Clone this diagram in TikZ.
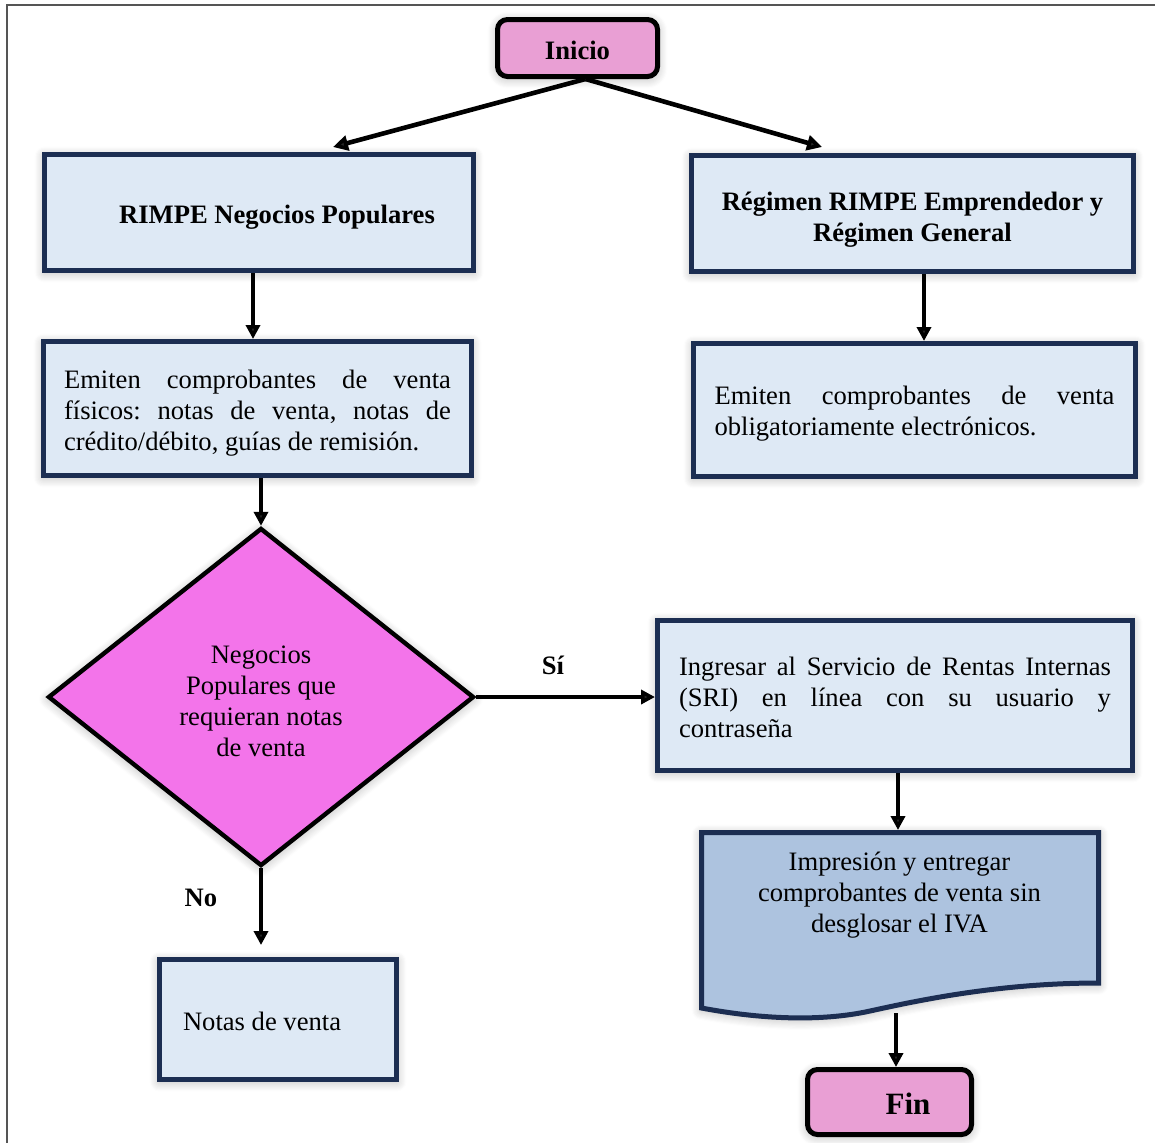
\documentclass[tikz,border=0pt]{standalone}
\usepackage{fontspec}
\setmainfont{Liberation Serif}
\frenchspacing
\usetikzlibrary{shapes.geometric,arrows.meta,calc,shadows.blur}
\definecolor{navy}{HTML}{1C2E52}
\definecolor{boxblue}{HTML}{DEE9F5}
\definecolor{docblue}{HTML}{ADC3DF}
\definecolor{termpink}{HTML}{E99FD4}
\definecolor{decpink}{HTML}{F374EA}
\definecolor{framegray}{HTML}{555555}
\begin{document}
\begin{tikzpicture}[x=0.5pt,y=-0.5pt,
  font=\fontsize{13.3}{15.5}\selectfont,
  softshadow/.style={blur shadow={shadow xshift=0pt,shadow yshift=-1pt,shadow blur radius=5pt,shadow blur steps=10,shadow opacity=30}},
  procbox/.style={rectangle, draw=navy, line width=2.5pt, fill=boxblue, inner sep=0pt, softshadow},
  term/.style={rectangle, rounded corners=5pt, draw=black, line width=2.5pt, fill=termpink, inner sep=0pt, softshadow, font=\fontsize{13.3}{15.5}\selectfont\bfseries},
  boldtext/.style={font=\fontsize{13.3}{15.5}\selectfont\bfseries},
  arr/.style={line width=2pt, -{Triangle[length=7pt,width=7pt]}},
  darr/.style={line width=2.3pt, -{Triangle[length=7.5pt,width=7.5pt]}}
]
\useasboundingbox (0,0) rectangle (1155,1142);
\draw[framegray, line width=0.8pt] (7,1160) -- (7,5) -- (1170,5);

\node[term, minimum width=80pt, minimum height=28.5pt, text height=11.2pt, text depth=0pt] (ini) at (577.5,48) {Inicio};

\node[procbox, boldtext, minimum width=214.5pt, minimum height=58pt, text height=14.2pt, text depth=2.9pt] (np) at (259,212.5) {\hspace*{18pt}RIMPE Negocios Populares};
\node[procbox, boldtext, align=center, minimum width=221pt, minimum height=58pt] (rg) at (912.5,213.5) {\rule{0pt}{15.5pt}Régimen RIMPE Emprendedor y\\Régimen General};

\node[procbox, minimum width=214pt, minimum height=67pt, text width=193.5pt, align=justify] (em1) at (257.5,408.5) {\rule{0pt}{14pt}Emiten comprobantes de venta\linebreak físicos: notas de venta, notas de\linebreak crédito/débito, guías de remisión.};
\node[procbox, minimum width=221pt, minimum height=66.5pt, text width=200pt, align=justify] (em2) at (914.5,410) {\rule{0pt}{13pt}Emiten comprobantes de venta\linebreak obligatoriamente electrónicos.};

\node[diamond, draw=black, line width=2.2pt, fill=decpink, minimum width=213pt, minimum height=169pt, inner sep=0pt, align=center, softshadow] (dec) at (261,697) {\rule{0pt}{13pt}Negocios\\Populares que\\requieran notas\\de venta};

\node[procbox, minimum width=237.5pt, minimum height=75pt, text width=216pt, align=justify] (sri) at (895,695.5) {\rule{0pt}{11pt}Ingresar al Servicio de Rentas Internas\linebreak (SRI) en línea con su usuario y\linebreak contraseña};

\node[procbox, minimum width=118.5pt, minimum height=60pt, text width=95pt, align=flush left] (nv) at (278,1019.5) {\rule{0pt}{11pt}Notas de venta};

\draw[draw=navy, line width=2.5pt, fill=docblue, softshadow] (701.5,832.5) -- (1098.5,832.5) -- (1098.5,983) .. controls (1000,983) and (920,1000) .. (870,1011) .. controls (820,1022) and (760,1019) .. (701.5,1008) -- cycle;
\node[align=center, inner sep=0pt] (doc) at (899.5,895) {Impresión y entregar\\comprobantes de venta sin\\desglosar el IVA};
\coordinate (doctop) at (898,830);
\coordinate (docbot) at (896,1013);

\node[term, minimum width=82pt, minimum height=32.5pt, text height=12.5pt, text depth=0pt, font=\fontsize{15.5}{18}\selectfont\bfseries] (fin) at (889.5,1102) {\hspace*{18.5pt}Fin};

\node[boldtext] (si) at (553,665) {Sí};
\node[boldtext] (no) at (201,898) {No};

\draw[darr] ([xshift=4pt]ini.south) -- ($(np.north)+(74,-5)$);
\draw[darr] ([xshift=4pt]ini.south) -- ($(rg.north)+(-90.5,-6)$);
\draw[arr] ($(np.south)+(-6,0)$) -- ($(em1.north)+(-4.5,0)$);
\draw[arr] ($(rg.south)+(11.5,0)$) -- ($(em2.north)+(9.5,0)$);
\draw[arr] (em1.south -| dec.north) -- (dec.north);
\draw[arr] (dec.east) -- (dec.east -| sri.west);
\draw[arr] (dec.south) -- ($(dec.south |- nv.north)+(0,-12)$);
\draw[arr] (sri.south -| doctop) -- (doctop);
\draw[arr] (docbot) -- (docbot |- fin.north);
\end{tikzpicture}
\end{document}
